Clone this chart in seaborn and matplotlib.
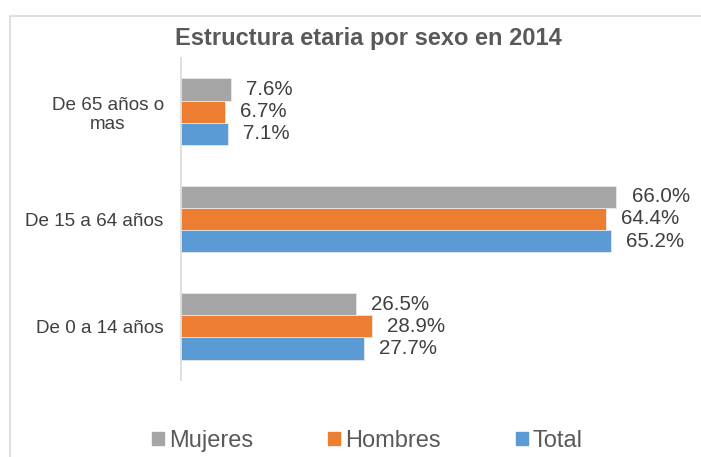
import pandas as pd
import matplotlib.pyplot as plt
import seaborn as sns
from matplotlib.patches import Rectangle

# Datos
grupos = ['De 65 años o\nmas', 'De 15 a 64 años', 'De 0 a 14 años']
sexos = ['Mujeres', 'Hombres', 'Total']
mujeres = [7.6, 66.0, 26.5]
hombres = [6.7, 64.4, 28.9]
total = [7.1, 65.2, 27.7]
colores = ['#A5A5A5', '#ED7D31', '#5B9BD5']

df = pd.DataFrame({
    'grupo': grupos * 3,
    'sexo': [s for s in sexos for _ in grupos],
    'valor': mujeres + hombres + total,
})

sns.set_style("white")
plt.rcParams['font.family'] = ['Liberation Sans', 'DejaVu Sans']

fig = plt.figure(figsize=(7.01, 4.57), dpi=100)
ax = fig.add_axes([181 / 701, 1 - 380 / 457, 475 / 701, 322 / 457])

sns.barplot(data=df, y='grupo', x='valor', hue='sexo', order=grupos,
            hue_order=sexos, palette=colores, saturation=1, orient='h',
            width=0.62, edgecolor='#E8E8E8', linewidth=0.6, ax=ax,
            legend=False)

ax.set_xlim(0, 72)
ax.set_ylim(2.5, -0.5)
ax.set_xlabel('')
ax.set_ylabel('')
ax.set_xticks([])
for s in ['top', 'right', 'bottom']:
    ax.spines[s].set_visible(False)
ax.spines['left'].set_color('#D9D9D9')
ax.spines['left'].set_linewidth(1.2)
ax.tick_params(axis='y', length=0, pad=12.5, labelsize=13.6, labelcolor='#404040')
for t in ax.get_yticklabels():
    t.set_multialignment('center')
    t.set_linespacing(1.15)

for cont in ax.containers:
    ax.bar_label(cont, labels=[f'{v:.1f}%' for v in cont.datavalues],
                 padding=11, fontsize=14.8, color='#404040')

fig.text(368.5 / 701, 1 - 45 / 457, 'Estructura etaria por sexo en 2014',
         ha='center', va='baseline', fontsize=17, fontweight='bold',
         color='#595959')

# Leyenda
handles = [Rectangle((0, 0), 1, 1, color=c) for c in colores]
fig.legend(handles, sexos, loc='center', bbox_to_anchor=(0.524, 1 - 441 / 457),
           ncol=3, frameon=False, fontsize=17, labelcolor='#595959',
           handlelength=0.5, handleheight=0.5, handletextpad=0.2,
           columnspacing=3.2)

# Borde del gráfico
fig.patches.append(Rectangle((10 / 701, -0.05), 1.0, 1.05 - 16 / 457,
                             transform=fig.transFigure, fill=False,
                             edgecolor='#D9D9D9', linewidth=1.2))

plt.savefig('out.png', dpi=100)
